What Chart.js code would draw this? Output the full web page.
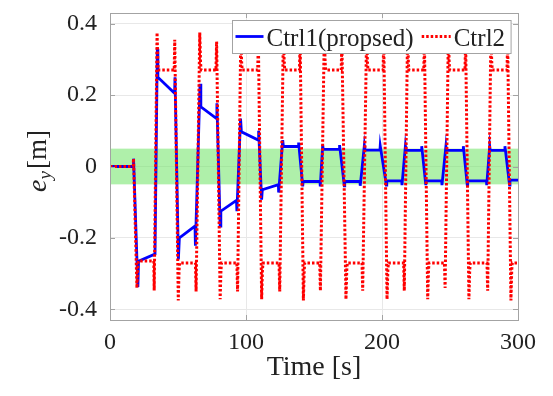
<!DOCTYPE html>
<html>
<head>
<meta charset="utf-8">
<script src="https://cdn.jsdelivr.net/npm/chart.js@4.4.1/dist/chart.umd.min.js"></script>
<style>
  body { margin: 0; background: #fff; }
</style>
</head>
<body>
<canvas id="grafico" width="553" height="396"></canvas>
<script>
///////////////////////////////////////////////// Dati //////////////////////////////////////////////
const tickX = [0, 100, 200, 300];
const etichetteX = ["0", "100", "200", "300"];
const tickY = [-0.4, -0.2, 0, 0.2, 0.4];
const etichetteY = ["-0.4", "-0.2", "0", "0.2", "0.4"];
const bandaTolleranza = [-0.05, 0.05];

// Ctrl1 (proposto) - linea blu
const tempoCtrl1 = [0, 17, 17.3, 20.5, 21, 33.1, 34.8, 35.2, 47.5, 47.8,
    50.3, 51, 62.5, 62.8, 66.2, 66.8, 78.4, 78.6, 81, 81.5,
    93, 93.3, 96, 96.6, 109, 109.3, 111.5, 112, 123.8, 124,
    127, 127.5, 138.5, 138.7, 141.7, 142, 154.4, 154.6, 156.4, 156.8,
    168.6, 168.8, 172.3, 172.6, 183.8, 184, 187, 187.4, 198.5, 198.7,
    203.2, 203.5, 214.5, 214.7, 217.2, 217.6, 229, 229.2, 232.2, 232.5,
    243.9, 244.1, 247, 247.4, 259.6, 259.8, 262.7, 263, 276.8, 277,
    279.2, 279.6, 290.2, 290.4, 293.8, 294.1, 300];
const valoriCtrl1 = [0, 0, 0.022, -0.338, -0.265, -0.245, 0.33, 0.25, 0.205, 0.25,
    -0.26, -0.2, -0.167, -0.222, 0.232, 0.167, 0.134, 0.177, -0.167, -0.125,
    -0.095, -0.125, 0.134, 0.097, 0.074, 0.1, -0.093, -0.065, -0.051, -0.073,
    0.074, 0.056, 0.056, 0.067, -0.056, -0.042, -0.042, -0.056, 0.06, 0.048,
    0.048, 0.06, -0.054, -0.042, -0.042, -0.054, 0.058, 0.046, 0.046, 0.058,
    -0.052, -0.04, -0.04, -0.052, 0.057, 0.045, 0.045, 0.057, -0.052, -0.04,
    -0.04, -0.052, 0.057, 0.045, 0.045, 0.057, -0.052, -0.04, -0.04, -0.052,
    0.057, 0.045, 0.045, 0.057, -0.052, -0.038, -0.038];

// Ctrl2 - linea rossa punteggiata
const tempoCtrl2 = [0, 17, 17.3, 19.8, 20.4, 20.8, 32.2, 32.5,
    34.6, 35.2, 35.6, 47.2, 47.6,
    50.2, 50.8, 51.2, 62.8, 63.3,
    66, 66.6, 67, 77.9, 78.4,
    81, 81.6, 82, 93.3, 93.8,
    96.2, 96.8, 97.2, 108.6, 109.1,
    111.5, 112.1, 112.5, 124.3, 124.8,
    127.5, 128.1, 128.5, 139.3, 139.8,
    142.2, 142.8, 143.2, 154.2, 154.7,
    157.6, 158.2, 158.6, 170, 170.5,
    173.5, 174.1, 174.5, 185.3, 185.8,
    188.7, 189.3, 189.7, 200.8, 201.3,
    203.7, 204.3, 204.7, 215.9, 216.4,
    218.8, 219.4, 219.8, 230.7, 231.2,
    233.6, 234.2, 234.6, 245.9, 246.4,
    248.8, 249.4, 249.8, 261, 261.5,
    263.9, 264.5, 264.9, 277.2, 277.7,
    280.1, 280.7, 281.1, 291.9, 292.4,
    294.8, 295.4, 295.8, 300];
const valoriCtrl2 = [0, 0, 0.022, -0.34, -0.28, -0.265, -0.265, -0.347,
    0.375, 0.29, 0.27, 0.27, 0.355,
    -0.375, -0.29, -0.27, -0.27, -0.35,
    0.375, 0.29, 0.27, 0.27, 0.35,
    -0.372, -0.29, -0.27, -0.27, -0.35,
    0.375, 0.29, 0.27, 0.27, 0.35,
    -0.372, -0.29, -0.27, -0.27, -0.35,
    0.375, 0.29, 0.27, 0.27, 0.35,
    -0.375, -0.29, -0.27, -0.27, -0.348,
    0.375, 0.29, 0.27, 0.27, 0.35,
    -0.372, -0.29, -0.27, -0.27, -0.348,
    0.375, 0.29, 0.27, 0.27, 0.35,
    -0.372, -0.29, -0.27, -0.27, -0.348,
    0.375, 0.29, 0.27, 0.27, 0.35,
    -0.372, -0.29, -0.27, -0.27, -0.34,
    0.375, 0.29, 0.27, 0.27, 0.35,
    -0.372, -0.29, -0.27, -0.27, -0.348,
    0.375, 0.29, 0.27, 0.27, 0.35,
    -0.375, -0.29, -0.27, -0.27];

const puntiCtrl1 = tempoCtrl1.map((t, i) => ({ x: t, y: valoriCtrl1[i] }));
const puntiCtrl2 = tempoCtrl2.map((t, i) => ({ x: t, y: valoriCtrl2[i] }));

const font = "'Liberation Serif', 'Times New Roman', serif";
const coloreAssi = "#a3a3a3";
const coloreTesto = "#222222";

///////////////////////////////////////////////// Banda, cornice, legenda, titolo y //////////////////////////////////////////////
const decorazioni = {
    id: "decorazioni",
    beforeDatasetsDraw(chart) {
        const { ctx, chartArea: a, scales: { y } } = chart;
        const yAlto = y.getPixelForValue(bandaTolleranza[1]);
        const yBasso = y.getPixelForValue(bandaTolleranza[0]);
        ctx.save();
        ctx.fillStyle = "rgba(110, 228, 100, 0.55)";
        ctx.fillRect(a.left, yAlto, a.right - a.left, yBasso - yAlto);
        ctx.restore();
    },
    afterDraw(chart) {
        const { ctx, chartArea: a, scales: { x, y } } = chart;
        ctx.save();

        // cornice e tacche verso l'interno
        ctx.strokeStyle = coloreAssi;
        ctx.lineWidth = 1;
        ctx.beginPath();
        tickX.forEach(v => {
            const px = Math.round(x.getPixelForValue(v)) + 0.5;
            ctx.moveTo(px, a.bottom); ctx.lineTo(px, a.bottom - 5);
            ctx.moveTo(px, a.top); ctx.lineTo(px, a.top + 5);
        });
        tickY.forEach(v => {
            const py = Math.round(y.getPixelForValue(v)) + 0.5;
            ctx.moveTo(a.left, py); ctx.lineTo(a.left + 5, py);
            ctx.moveTo(a.right, py); ctx.lineTo(a.right - 5, py);
        });
        ctx.stroke();
        ctx.strokeRect(Math.round(a.left) + 0.5, Math.round(a.top) + 0.5,
            Math.round(a.right - a.left), Math.round(a.bottom - a.top));

        // legenda dentro il grafico
        const fontLeg = "25px " + font;
        ctx.font = fontLeg;
        const dataset = chart.data.datasets;
        const larghezze = dataset.map(d => ctx.measureText(d.label).width);
        const larg = 3 + 28 + 3 + larghezze[0] + 8 + 29 + 3 + larghezze[1] + 6;
        const bx = Math.round(a.right - 7 - larg) + 0.5;
        const by = Math.round(a.top + 7) + 0.5;
        ctx.fillStyle = "#ffffff";
        ctx.fillRect(bx, by, larg, 33);
        ctx.strokeStyle = coloreAssi;
        ctx.lineWidth = 1;
        ctx.strokeRect(bx, by, larg, 33);
        let cx = bx + 3;
        dataset.forEach((d, i) => {
            const lung = i === 0 ? 28 : 29;
            ctx.strokeStyle = d.borderColor;
            ctx.lineWidth = d.borderWidth;
            ctx.setLineDash(d.borderDash || []);
            ctx.beginPath();
            ctx.moveTo(cx, by + 16);
            ctx.lineTo(cx + lung, by + 16);
            ctx.stroke();
            ctx.setLineDash([]);
            cx += lung + 3;
            ctx.fillStyle = coloreTesto;
            ctx.textBaseline = "alphabetic";
            ctx.fillText(d.label, cx, by + 25);
            cx += larghezze[i] + 8;
        });

        // titolo asse y: e_y [m]
        ctx.translate(46, 161);
        ctx.rotate(-Math.PI / 2);
        const fE = "italic 28px " + font;
        const fSub = "italic 19px " + font;
        const fM = "27px " + font;
        ctx.font = fE; const wE = ctx.measureText("e").width;
        ctx.font = fSub; const wSub = ctx.measureText("y").width;
        ctx.font = fM; const wM = ctx.measureText("[m]").width;
        const totale = wE + wSub + 2 + wM;
        let px = -totale / 2;
        ctx.fillStyle = coloreTesto;
        ctx.textBaseline = "alphabetic";
        ctx.font = fE; ctx.fillText("e", px, 0); px += wE;
        ctx.font = fSub; ctx.fillText("y", px, 5); px += wSub + 2;
        ctx.font = fM; ctx.fillText("[m]", px, 0);

        ctx.restore();
    }
};

///////////////////////////////////////////////// Grafico //////////////////////////////////////////////
const grafico = new Chart(document.getElementById("grafico"), {
    type: "line",
    data: {
        datasets: [{
            label: "Ctrl1(propsed)",
            data: puntiCtrl1,
            borderColor: "#0000ff",
            borderWidth: 2.8,
            pointRadius: 0,
            tension: 0,
            order: 1,
        }, {
            label: "Ctrl2",
            data: puntiCtrl2,
            borderColor: "#ff0000",
            borderWidth: 3,
            borderDash: [2.5, 2],
            pointRadius: 0,
            tension: 0,
            order: 0,
        }],
    },
    options: {
        responsive: false,
        animation: false,
        layout: { padding: { top: 13, right: 35, left: 0, bottom: 0 } },
        plugins: {
            legend: { display: false },
            tooltip: { enabled: false },
        },
        scales: {
            x: {
                type: "linear",
                min: 0,
                max: 300,
                afterBuildTicks: s => { s.ticks = tickX.map(v => ({ value: v })); },
                afterFit: s => { s.height = 76; s.paddingLeft = 0; s.paddingRight = 0; },
                grid: { color: "#e8e8e8", drawTicks: false },
                border: { display: false },
                ticks: {
                    padding: 8,
                    maxRotation: 0,
                    color: coloreTesto,
                    font: { family: font, size: 24 },
                    callback: (v, i) => etichetteX[i],
                },
                title: {
                    display: true,
                    text: "Time [s]",
                    color: coloreTesto,
                    font: { family: font, size: 28 },
                    padding: { top: 0, bottom: 12 },
                },
            },
            y: {
                min: -0.43,
                max: 0.43,
                afterBuildTicks: s => { s.ticks = tickY.map(v => ({ value: v })); },
                afterFit: s => { s.width = 110; s.paddingTop = 0; s.paddingBottom = 0; },
                grid: { color: "#e8e8e8", drawTicks: false },
                border: { display: false },
                ticks: {
                    padding: 13,
                    color: coloreTesto,
                    font: { family: font, size: 24 },
                    callback: (v, i) => etichetteY[i],
                },
            },
        },
    },
    plugins: [decorazioni],
});
</script>
</body>
</html>
